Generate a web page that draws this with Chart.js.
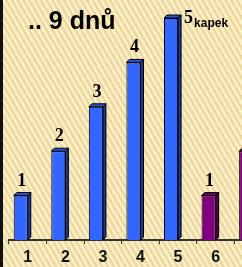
<!DOCTYPE html>
<html>
<head>
<meta charset="utf-8">
<script src="https://cdn.jsdelivr.net/npm/chart.js@4.4.0/dist/chart.umd.min.js"></script>
<style>
html, body { margin: 0; padding: 0; width: 242px; height: 267px; overflow: hidden; }
body {
    position: relative;
    background-color: #f4e2ab;
    background-image: repeating-linear-gradient(60deg, rgba(255, 249, 222, 0.6) 0px, rgba(255, 249, 222, 0.6) 2px, rgba(214, 188, 120, 0.25) 3px, rgba(214, 188, 120, 0.25) 5px);
}
#edge { position: absolute; left: 0; top: 0; width: 3px; height: 267px; background: #111; z-index: 2; }
#title { position: absolute; left: 28px; top: 6px; font: bold 25px "Liberation Sans", Arial, sans-serif; white-space: pre; color: #000; z-index: 2; }
#wrap { position: absolute; left: 0; top: 0; width: 280px; height: 267px; }
</style>
</head>
<body>
<div id="edge"></div>
<div id="title">.. 9 dnů</div>
<div id="wrap"><canvas id="dropsChart" width="280" height="267"></canvas></div>
<script>
// --- data ---
const days = ['1', '2', '3', '4', '5', '6', '7'];
const drops = [1, 2, 3, 4, 5, 1, 2];
const spacer = [null, null, null, null, null, null, null]; // empty slot right of each bar
const frontColors = ['#3366ff', '#3366ff', '#3366ff', '#3366ff', '#3366ff', '#800080', '#800080'];
const sideColors = ['#1c3596', '#1c3596', '#1c3596', '#1c3596', '#1c3596', '#4a004a', '#4a004a'];
const topColors = ['#2a52d6', '#2a52d6', '#2a52d6', '#2a52d6', '#2a52d6', '#660066', '#660066'];
const unitLabel = 'kapek';

// draws the 3D side/top and the numbers over the bars
const barDepth = {
    id: 'barDepth',
    afterDatasetsDraw(chart) {
        const ctx = chart.ctx;
        const meta = chart.getDatasetMeta(0);
        const d = 3;
        ctx.save();
        meta.data.forEach((el, i) => {
            const left = el.x - el.width / 2;
            const right = el.x + el.width / 2;
            const top = el.y;
            const base = el.base;
            ctx.lineWidth = 1;
            ctx.strokeStyle = '#000';
            // side
            ctx.beginPath();
            ctx.moveTo(right, top);
            ctx.lineTo(right + d, top - d);
            ctx.lineTo(right + d, base - d);
            ctx.lineTo(right, base);
            ctx.closePath();
            ctx.fillStyle = sideColors[i];
            ctx.fill();
            ctx.stroke();
            // top
            ctx.beginPath();
            ctx.moveTo(left, top);
            ctx.lineTo(left + d, top - d);
            ctx.lineTo(right + d, top - d);
            ctx.lineTo(right, top);
            ctx.closePath();
            ctx.fillStyle = topColors[i];
            ctx.fill();
            ctx.stroke();

            // value label
            ctx.fillStyle = '#000';
            ctx.textBaseline = 'alphabetic';
            ctx.font = 'bold 18px "Liberation Serif", "Times New Roman", serif';
            if (drops[i] === Math.max(...drops)) {
                ctx.textAlign = 'left';
                ctx.fillText(String(drops[i]), right + 6, top + 5);
                const w = ctx.measureText(String(drops[i])).width;
                ctx.font = 'bold 12px "Liberation Sans", Arial, sans-serif';
                ctx.fillText(unitLabel, right + 7 + w, top + 9);
            } else {
                ctx.textAlign = 'center';
                ctx.fillText(String(drops[i]), el.x + 1, top - 10);
            }
        });
        ctx.restore();
    }
};

const ctx = document.getElementById('dropsChart').getContext('2d');
const dropsChart = new Chart(ctx, {
    type: 'bar',
    data: {
        labels: days,
        datasets: [{
            data: drops,
            backgroundColor: frontColors,
            borderColor: '#000',
            borderWidth: 1
        }, {
            data: spacer
        }]
    },
    options: {
        responsive: false,
        animation: false,
        events: [],
        categoryPercentage: 0.75,
        barPercentage: 1,
        layout: { padding: { left: 9, right: 8, top: 18, bottom: 0 } },
        plugins: {
            legend: { display: false },
            tooltip: { enabled: false }
        },
        scales: {
            x: {
                afterFit(scale) { scale.height = 27; },
                grid: { drawOnChartArea: false, drawTicks: true, tickLength: 4, color: '#333', lineWidth: 1 },
                border: { display: true, color: '#333', width: 2 },
                ticks: {
                    color: '#111',
                    padding: 5,
                    font: { family: '"Liberation Sans", Arial, sans-serif', size: 16, weight: 'bold', lineHeight: 1.125 }
                }
            },
            y: {
                display: false,
                min: 0,
                max: 5
            }
        }
    },
    plugins: [barDepth]
});
</script>
</body>
</html>
